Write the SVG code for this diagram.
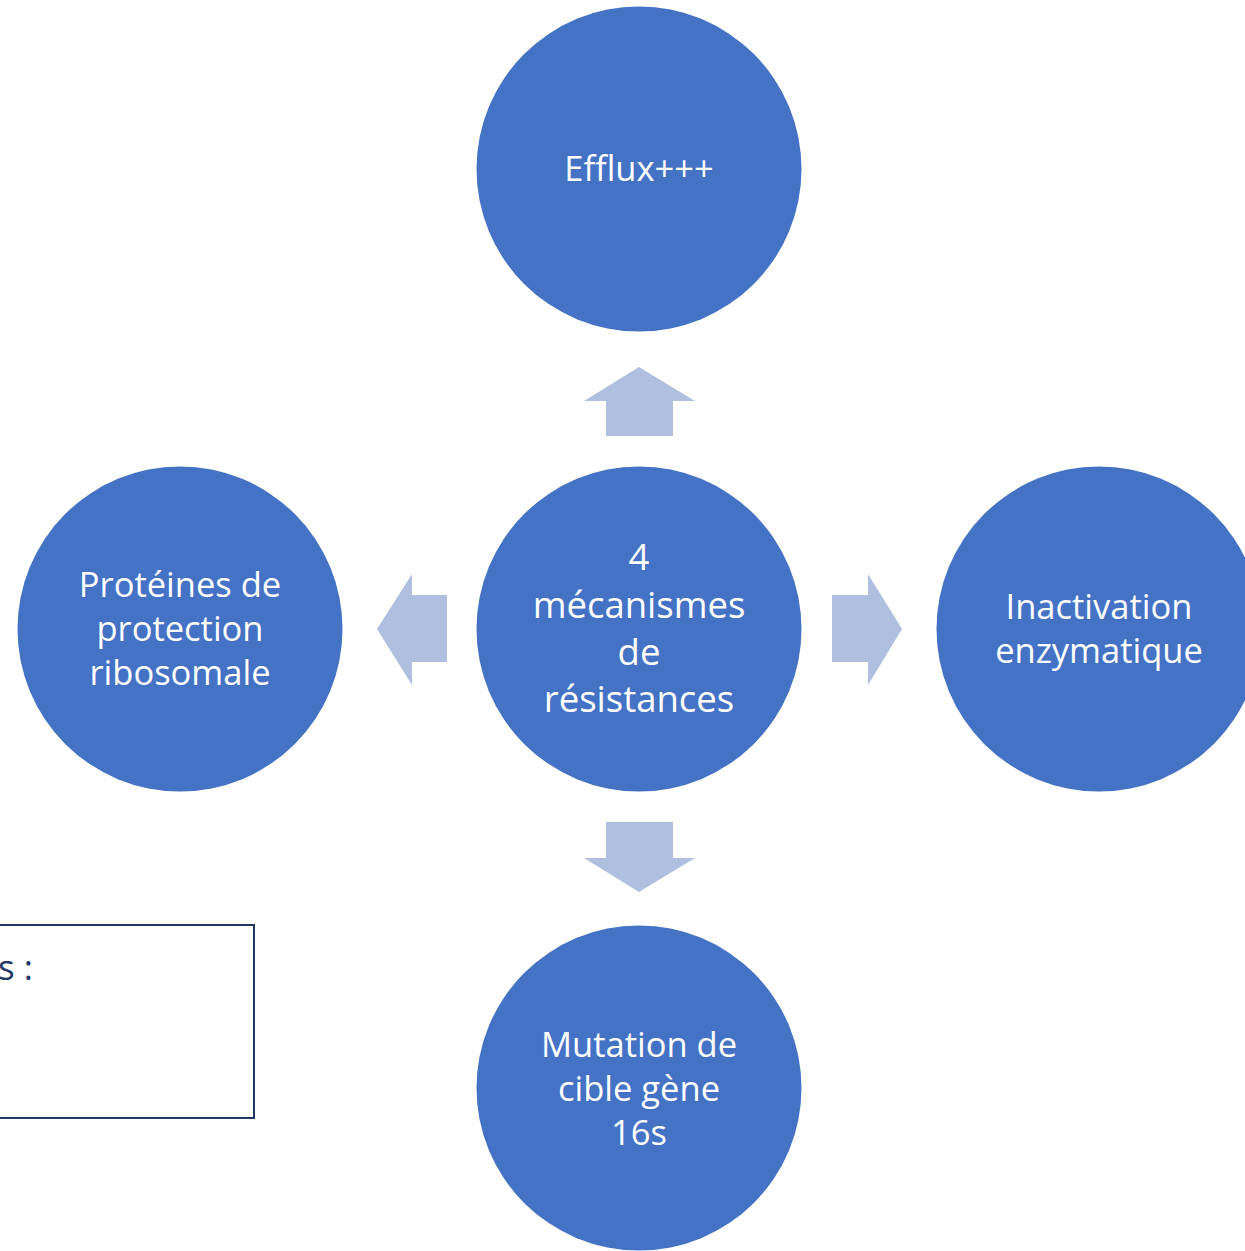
<svg xmlns="http://www.w3.org/2000/svg" width="1245" height="1251" viewBox="0 0 1245 1251">
<style>
.node{fill:#4472C4}
.lbl{fill:#FFFFFF;font-family:"Open Sans","Noto Sans",sans-serif;font-size:34.5px;text-anchor:middle}
.big{font-size:36.5px}
.arr{fill:#B0BFE0}
.box{fill:#FFFFFF;stroke:#1F3864;stroke-width:2}
.btxt{fill:#1F3864;font-family:"Open Sans","Noto Sans",sans-serif;font-size:35px}
</style>
<rect width="1245" height="1251" fill="#FFFFFF"/>
<g id="connectors">
<polygon class="arr" points="639,367 695,401 673,401 673,436 606,436 606,401 584,401"/>
<polygon class="arr" points="639,892 695,858 673,858 673,822 606,822 606,858 584,858"/>
<polygon class="arr" points="377,629 412,574 412,595 447,595 447,662 412,662 412,685"/>
<polygon class="arr" points="902,629 868,574 868,595 832,595 832,662 868,662 868,685"/>
</g>
<g id="note">
<rect class="box" x="-10" y="925" width="264" height="193"/>
<text class="btxt" x="-2" y="980">s :</text>
</g>
<g id="n-efflux">
<circle class="node" cx="639" cy="169" r="162.5"/>
<text class="lbl" x="639" y="181">Efflux+++</text>
</g>
<g id="n-center">
<circle class="node" cx="639" cy="629" r="162.5"/>
<text class="lbl big" x="639" y="570">4</text>
<text class="lbl big" x="639" y="618">mécanismes</text>
<text class="lbl big" x="639" y="665">de</text>
<text class="lbl big" x="639" y="712">résistances</text>
</g>
<g id="n-proteines">
<circle class="node" cx="180" cy="629" r="162.5"/>
<text class="lbl" x="180" y="597">Protéines de</text>
<text class="lbl" x="180" y="641">protection</text>
<text class="lbl" x="180" y="685">ribosomale</text>
</g>
<g id="n-inactivation">
<circle class="node" cx="1099" cy="629" r="162.5"/>
<text class="lbl" x="1099" y="619">Inactivation</text>
<text class="lbl" x="1099" y="663">enzymatique</text>
</g>
<g id="n-mutation">
<circle class="node" cx="639" cy="1088" r="162.5"/>
<text class="lbl" x="639" y="1057">Mutation de</text>
<text class="lbl" x="639" y="1101">cible gène</text>
<text class="lbl" x="639" y="1145">16s</text>
</g>
</svg>
